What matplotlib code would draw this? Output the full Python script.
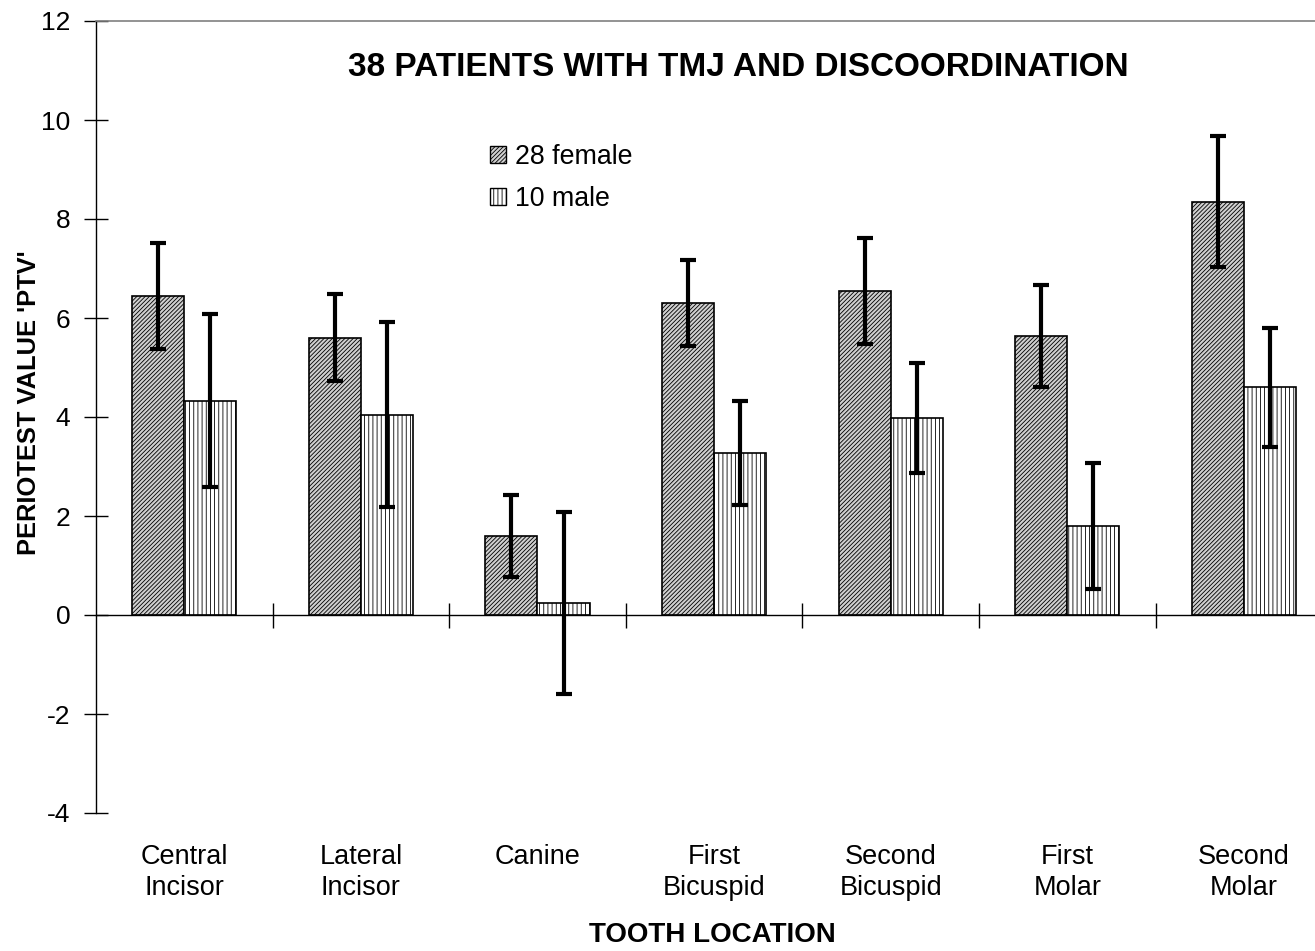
import matplotlib
matplotlib.use("Agg")
import matplotlib.pyplot as plt
import numpy as np
from matplotlib.patches import Patch

plt.rcParams['font.family'] = ['Liberation Sans', 'DejaVu Sans']
plt.rcParams['hatch.linewidth'] = 0.6
plt.rcParams['axes.unicode_minus'] = False

categories = ["Central\nIncisor", "Lateral\nIncisor", "Canine", "First\nBicuspid",
              "Second\nBicuspid", "First\nMolar", "Second\nMolar"]
female = [6.45, 5.60, 1.60, 6.30, 6.55, 5.63, 8.35]
female_err = [1.07, 0.88, 0.83, 0.87, 1.07, 1.03, 1.32]
male = [4.33, 4.05, 0.25, 3.27, 3.98, 1.80, 4.60]
male_err = [1.75, 1.87, 1.84, 1.05, 1.11, 1.28, 1.20]
yticks = [-4, -2, 0, 2, 4, 6, 8, 10, 12]
title = "38 PATIENTS WITH TMJ AND DISCOORDINATION"
series_labels = ["28 female", "10 male"]

W, H = 1315, 951
fig = plt.figure(figsize=(W/100, H/100), dpi=100)
left, right, top, bottom = 96, 1315, 21, 813
ax = fig.add_axes([left/W, 1-bottom/H, (right-left)/W, (bottom-top)/H])

x = np.arange(len(categories))
bw = 0.295
fem_hatch = '////////'
ax.bar(x - bw/2, female, bw, color='#d0d0d0', edgecolor='black', hatch=fem_hatch, linewidth=1.2, zorder=2)
ax.bar(x + bw/2, male, bw, color='white', edgecolor='black', hatch='||||', linewidth=1.2, zorder=2)
ax.errorbar(x - bw/2, female, yerr=female_err, fmt='none', ecolor='black', elinewidth=3,
            capsize=5.8, capthick=3, zorder=3)
ax.errorbar(x + bw/2, male, yerr=male_err, fmt='none', ecolor='black', elinewidth=3,
            capsize=5.8, capthick=3, zorder=3)

ax.set_xlim(-0.5, -0.5 + (right-left)/176.6)
ax.set_ylim(-4, 12)
ax.set_yticks(yticks)
ax.tick_params(axis='y', direction='inout', length=17, width=1, labelsize=19, pad=10)
ax.spines['left'].set_linewidth(1)
ax.spines['top'].set_color('#808080')
ax.spines['top'].set_linewidth(1.2)
ax.spines['right'].set_visible(False)
ax.spines['bottom'].set_position(('data', 0))
ax.spines['bottom'].set_linewidth(1)
ax.set_xticks(np.arange(len(categories) - 1) + 0.5)
ax.set_xticklabels([])
ax.tick_params(axis='x', direction='inout', length=18, width=1)

for xi, lab in zip(x, categories):
    ax.text(xi, -4.62, lab, transform=ax.transData, ha='center', va='top',
            fontsize=19.5, linespacing=1.25, clip_on=False)

fig.text(738/W, 1-67/H, title, ha='center', va='center', fontsize=24, fontweight='bold')
fig.text(712/W, 1-935/H, "TOOTH LOCATION", ha='center', va='center', fontsize=20, fontweight='bold')
fig.text(29/W, 1-403/H, "PERIOTEST VALUE 'PTV'", ha='center', va='center', rotation=90,
         fontsize=18.4, fontweight='bold')

handles = [Patch(facecolor='#d0d0d0', edgecolor='black', hatch=fem_hatch, linewidth=1),
           Patch(facecolor='white', edgecolor='black', hatch='||||', linewidth=1)]
leg = ax.legend(handles, series_labels, loc='upper left', bbox_to_anchor=(490/W, 1-144/H),
                bbox_transform=fig.transFigure, frameon=False, fontsize=19.3,
                handlelength=0.6, handleheight=0.6, handletextpad=0.33, labelspacing=0.6,
                borderpad=0, borderaxespad=0)

fig.savefig("out.png", dpi=100)
